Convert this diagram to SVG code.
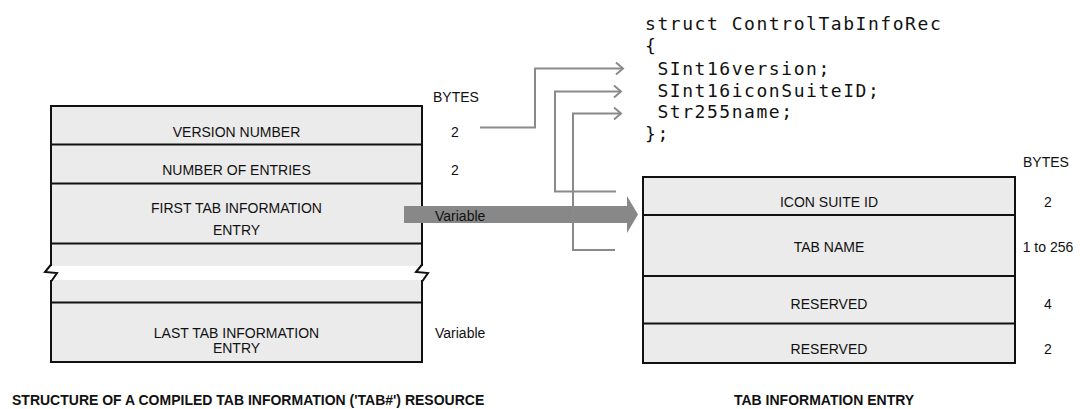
<svg xmlns="http://www.w3.org/2000/svg" width="1081" height="409" viewBox="0 0 1081 409">
<style>
.t{font-family:"Liberation Sans",Arial,sans-serif;font-size:14px;fill:#111}
.c{text-anchor:middle}
.b{font-weight:bold}
.code{font-family:"DejaVu Sans Mono",monospace;font-size:18px;letter-spacing:1.55px;fill:#111;white-space:pre}
.box{fill:#ebebeb;stroke:#111;stroke-width:2}
.ln{stroke:#111;stroke-width:2;fill:none}
.conn{stroke:#8a8a8a;stroke-width:2;fill:none}
</style>
<defs>
<marker id="chev" markerWidth="10" markerHeight="14" refX="8" refY="7" orient="auto" markerUnits="userSpaceOnUse">
<path d="M1,1 L8,7 L1,13" fill="none" stroke="#8a8a8a" stroke-width="2"/>
</marker>
</defs>
<rect width="1081" height="409" fill="#fff"/>

<g id="left-structure">
<rect class="box" x="51" y="106" width="371" height="256"/>
<line class="ln" x1="51" y1="144.5" x2="422" y2="144.5"/>
<line class="ln" x1="51" y1="183.5" x2="422" y2="183.5"/>
<line class="ln" x1="51" y1="243.5" x2="422" y2="243.5"/>
<line class="ln" x1="51" y1="302.5" x2="422" y2="302.5"/>
<rect x="40" y="266" width="392" height="14" fill="#fff"/>
<path class="ln" d="M51.5,264 L45,272 L57,273 L51.5,281" stroke-width="1.8"/>
<path class="ln" d="M422.5,264 L416,272 L428,273 L422.5,281" stroke-width="1.8"/>
<text class="t c" x="236.5" y="137">VERSION NUMBER</text>
<text class="t c" x="236.5" y="175">NUMBER OF ENTRIES</text>
<text class="t c" x="236.5" y="213">FIRST TAB INFORMATION</text>
<text class="t c" x="236.5" y="235">ENTRY</text>
<text class="t c" x="236.5" y="338">LAST TAB INFORMATION</text>
<text class="t c" x="236.5" y="353">ENTRY</text>
<text class="t" x="433" y="102">BYTES</text>
<text class="t c" x="455" y="137">2</text>
<text class="t c" x="455" y="175">2</text>
<text class="t" x="435" y="338">Variable</text>
</g>

<g id="big-arrow">
<path d="M404,206 L627,206 L627,196 L638,214.5 L627,233 L627,223 L404,223 Z" fill="#888"/>
<text class="t" x="435" y="221">Variable</text>
</g>

<g id="struct-code">
<text class="code" x="645" y="30">struct ControlTabInfoRec</text>
<text class="code" x="645" y="52">{</text>
<text class="code" x="645" y="75"> SInt16version;</text>
<text class="code" x="645" y="96.7"> SInt16iconSuiteID;</text>
<text class="code" x="645" y="118.4"> Str255name;</text>
<text class="code" x="645" y="140.1">};</text>
</g>

<g id="right-entry">
<rect class="box" x="643" y="177" width="372" height="186"/>
<line class="ln" x1="643" y1="215" x2="1015" y2="215"/>
<line class="ln" x1="643" y1="276" x2="1015" y2="276"/>
<line class="ln" x1="643" y1="323.5" x2="1015" y2="323.5"/>
<text class="t c" x="829" y="207">ICON SUITE ID</text>
<text class="t c" x="829" y="252">TAB  NAME</text>
<text class="t c" x="829" y="308.5">RESERVED</text>
<text class="t c" x="829" y="353.5">RESERVED</text>
<text class="t" x="1023" y="167">BYTES</text>
<text class="t c" x="1048" y="207">2</text>
<text class="t c" x="1048" y="252">1 to 256</text>
<text class="t c" x="1048" y="308.5">4</text>
<text class="t c" x="1048" y="353.5">2</text>
</g>

<g id="connectors">
<path class="conn" d="M480,127.5 L535,127.5 L535,68.5 L623,68.5" marker-end="url(#chev)"/>
<path class="conn" d="M616,191.5 L555,191.5 L555,91.5 L621,91.5" marker-end="url(#chev)"/>
<path class="conn" d="M615,250 L573,250 L573,113.5 L621,113.5" marker-end="url(#chev)"/>
</g>

<g id="captions">
<text class="t b" x="12" y="405">STRUCTURE OF A COMPILED TAB INFORMATION ('TAB#') RESOURCE</text>
<text class="t b" x="734" y="405">TAB INFORMATION ENTRY</text>
</g>
</svg>
